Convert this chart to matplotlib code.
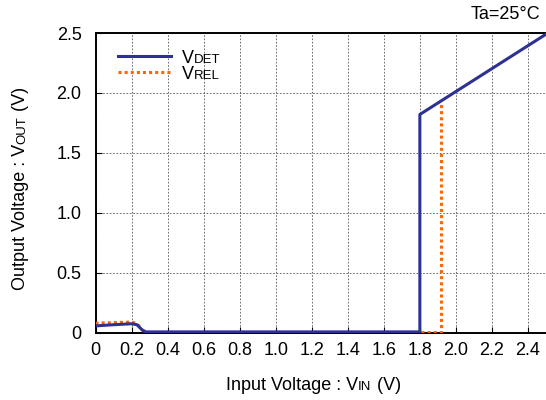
import matplotlib
matplotlib.use("Agg")
import matplotlib.pyplot as plt
from matplotlib.lines import Line2D
from matplotlib.font_manager import FontProperties

plt.rcParams['font.family'] = ['Liberation Sans', 'DejaVu Sans']

# Data
vdet_x = [0, 0.1, 0.2, 0.23, 0.26, 0.28, 1.8, 1.8, 2.5]
vdet_y = [0.055, 0.065, 0.073, 0.065, 0.02, 0.005, 0.005, 1.82, 2.49]
vrel_x = [0, 0.1, 0.2, 0.23, 0.26, 0.28, 1.92, 1.92]
vrel_y = [0.078, 0.083, 0.087, 0.075, 0.02, 0.0, 0.0, 1.9]

x_ticks = [0, 0.2, 0.4, 0.6, 0.8, 1.0, 1.2, 1.4, 1.6, 1.8, 2.0, 2.2, 2.4]
x_labels = ["0", "0.2", "0.4", "0.6", "0.8", "1.0", "1.2", "1.4", "1.6", "1.8", "2.0", "2.2", "2.4"]
y_ticks = [0, 0.5, 1.0, 1.5, 2.0, 2.5]
y_labels = ["0", "0.5", "1.0", "1.5", "2.0", "2.5"]

BLUE = "#2e3192"
ORANGE = "#ff6600"
FS = 13
FS_SMALL = 9.5
DPI = 100

fig = plt.figure(figsize=(5.46, 4.0), dpi=DPI)
ax = fig.add_axes([95.5 / 546, 1 - 332.5 / 400, 1 - 95.5 / 546, (332.5 - 33) / 400])

ax.plot(vrel_x, vrel_y, color=ORANGE, lw=2.2, linestyle=(0, (1, 1)), zorder=3)
ax.plot(vdet_x, vdet_y, color=BLUE, lw=2.2, zorder=4)

ax.set_xlim(0, 2.5)
ax.set_ylim(0, 2.5)
ax.set_xticks(x_ticks)
ax.set_xticklabels(x_labels)
ax.set_yticks(y_ticks)
ax.set_yticklabels(y_labels)
ax.tick_params(axis='both', direction='in', length=4, width=0.8, labelsize=FS)
ax.tick_params(axis='x', pad=7)
ax.tick_params(axis='y', pad=10)
ax.grid(True, color="#555555", lw=0.6, linestyle=(0, (2, 2)))
ax.spines['right'].set_visible(False)
for s in ['left', 'bottom', 'top']:
    ax.spines[s].set_linewidth(1.4)

# legend: big "V" then small-caps suffix appended after it
handles = [Line2D([], [], color=BLUE, lw=2.2),
           Line2D([], [], color=ORANGE, lw=2.2, linestyle=(0, (1, 1)))]
leg = ax.legend(handles, ["V", "V"], loc='upper left', bbox_to_anchor=(0.034, 0.968),
                frameon=False, fontsize=FS, handlelength=2.93, handletextpad=0.6,
                labelspacing=-0.07, borderaxespad=0)

renderer = fig.canvas.get_renderer()


def descent_pt(fs):
    # descent of a text line (matplotlib pads every line to the descent of "lp")
    _, _, d = renderer.get_text_width_height_descent("lp", FontProperties(family=plt.rcParams['font.family'], size=fs), ismath=False)
    return d * 72 / DPI


def chain(first, first_fs, parts, rotation=0):
    prev, prev_fs = first, first_fs
    for s, fs in parts:
        d = descent_pt(prev_fs)
        if rotation:
            prev = fig.add_artist(plt.Annotation(s, xy=(1, 1), xycoords=prev, xytext=(-d, 0),
                                                 textcoords='offset points', ha='left', va='baseline',
                                                 rotation=90, rotation_mode='anchor', fontsize=fs))
        else:
            prev = fig.add_artist(plt.Annotation(s, xy=(1, 0), xycoords=prev, xytext=(0, d),
                                                 textcoords='offset points', ha='left', va='baseline',
                                                 fontsize=fs))
        prev_fs = fs
    return prev


for t, suffix in zip(leg.get_texts(), ["DET", "REL"]):
    chain(t, FS, [(suffix, FS_SMALL)])

# axis labels with small-caps parts
xl = fig.text(226 / 546, 10 / 400, "Input Voltage : V", fontsize=FS, va='baseline', ha='left')
chain(xl, FS, [("IN", FS_SMALL), (" (V)", FS)])

yl = fig.text(25 / 546, 110 / 400, "Output Voltage : V", fontsize=FS, va='baseline', ha='left',
              rotation=90, rotation_mode='anchor')
chain(yl, FS, [("OUT", FS_SMALL), (" (V)", FS)], rotation=90)

fig.text(540 / 546, 1 - 19 / 400, "Ta=25°C", fontsize=FS, ha='right', va='baseline')

fig.savefig("out.png", dpi=DPI)
